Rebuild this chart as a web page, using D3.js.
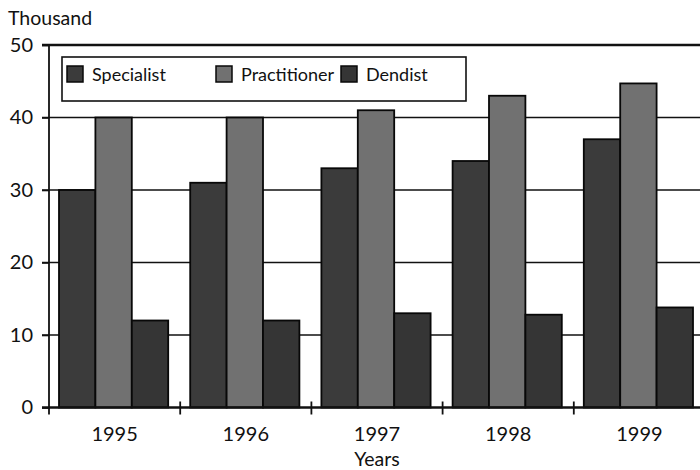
<!DOCTYPE html>
<html>
<head>
<meta charset="utf-8">
<script src="https://cdn.jsdelivr.net/npm/d3@7"></script>
<style>
  body { margin: 0; background: #fff; }
  text { font-family: Lato, "Open Sans", sans-serif; fill: #111; }
</style>
</head>
<body>
<div id="chart"></div>
<script>
// data
const years = ["1995", "1996", "1997", "1998", "1999"];
const series = ["Specialist", "Practitioner", "Dendist"];
const specialist = [30, 31, 33, 34, 37];
const practitioner = [40, 40, 41, 43, 44.7];
const dendist = [12, 12, 13, 12.8, 13.8];
const yTicks = [0, 10, 20, 30, 40, 50];

const values = { Specialist: specialist, Practitioner: practitioner, Dendist: dendist };
const colours = { Specialist: "#3b3b3b", Practitioner: "#717171", Dendist: "#353535" };

const width = 700, height = 470;
const plotLeft = 49, plotRight = 705, plotTop = 45, plotBottom = 407.5;

const svg = d3.select("#chart").append("svg")
    .attr("width", width)
    .attr("height", height);

//scales
const x0 = d3.scaleBand().domain(years).range([plotLeft, plotRight]);
const x1 = d3.scaleBand().domain(series).range([10, x0.bandwidth() - 12]);
const y = d3.scaleLinear().domain([0, 50]).range([plotBottom, plotTop]);

//grid lines
svg.append("g")
    .selectAll("line")
    .data(yTicks.filter(d => d > 0))
    .enter()
    .append("line")
    .attr("x1", plotLeft - 7)
    .attr("x2", width)
    .attr("y1", d => y(d))
    .attr("y2", d => y(d))
    .attr("stroke", "#111")
    .attr("stroke-width", d => d === 50 ? 2.5 : 1.6);

//bars
const groups = svg.append("g")
    .selectAll("g")
    .data(years)
    .enter()
    .append("g")
    .attr("transform", d => `translate(${x0(d)},0)`);

groups.selectAll("rect")
    .data((d, i) => series.map(s => ({ key: s, value: values[s][i] })))
    .enter()
    .append("rect")
    .attr("x", d => x1(d.key))
    .attr("width", x1.bandwidth())
    .attr("y", d => y(d.value))
    .attr("height", d => plotBottom - y(d.value))
    .attr("fill", d => colours[d.key])
    .attr("stroke", "#080808")
    .attr("stroke-width", 1.8);

//y axis
const yAxis = svg.append("g")
    .attr("transform", `translate(${plotLeft},0)`)
    .call(d3.axisLeft(y).tickValues(yTicks).tickSize(7).tickPadding(9));
yAxis.select(".domain").remove();
yAxis.selectAll(".tick line").attr("stroke", "#111").attr("stroke-width", 1.6);
yAxis.selectAll(".tick text").style("font-size", "20px").attr("fill", "#111");

svg.append("line")
    .attr("x1", plotLeft).attr("x2", plotLeft)
    .attr("y1", plotTop).attr("y2", plotBottom + 7)
    .attr("stroke", "#111").attr("stroke-width", 1.8);

//x axis
svg.append("line")
    .attr("x1", plotLeft - 7).attr("x2", width)
    .attr("y1", plotBottom).attr("y2", plotBottom)
    .attr("stroke", "#111").attr("stroke-width", 2.4);

svg.append("g")
    .selectAll("line")
    .data(years.slice(1))
    .enter()
    .append("line")
    .attr("x1", d => x0(d)).attr("x2", d => x0(d))
    .attr("y1", plotBottom - 6).attr("y2", plotBottom + 7)
    .attr("stroke", "#111").attr("stroke-width", 1.8);

svg.append("g")
    .selectAll("text")
    .data(years)
    .enter()
    .append("text")
    .attr("x", d => x0(d) + x0.bandwidth() / 2)
    .attr("y", 441)
    .attr("text-anchor", "middle")
    .style("font-size", "20px")
    .text(d => d);

svg.append("text")
    .attr("x", (plotLeft + plotRight) / 2)
    .attr("y", 466)
    .attr("text-anchor", "middle")
    .style("font-size", "19.5px")
    .text("Years");

svg.append("text")
    .attr("x", 8)
    .attr("y", 25)
    .style("font-size", "19.5px")
    .text("Thousand");

//legend
const legend = svg.append("g");
legend.append("rect")
    .attr("x", 62).attr("y", 57)
    .attr("width", 404).attr("height", 44)
    .attr("fill", "#fff")
    .attr("stroke", "#111")
    .attr("stroke-width", 1.6);

const legendX = [67, 216, 341];
const items = legend.selectAll(".item")
    .data(series)
    .enter()
    .append("g")
    .attr("class", "item")
    .attr("transform", (d, i) => `translate(${legendX[i]},66)`);

items.append("rect")
    .attr("width", 16).attr("height", 16)
    .attr("fill", d => colours[d])
    .attr("stroke", "#080808")
    .attr("stroke-width", 1.5);

items.append("text")
    .attr("x", 25)
    .attr("y", 15)
    .style("font-size", "18px")
    .text(d => d);
</script>
</body>
</html>
